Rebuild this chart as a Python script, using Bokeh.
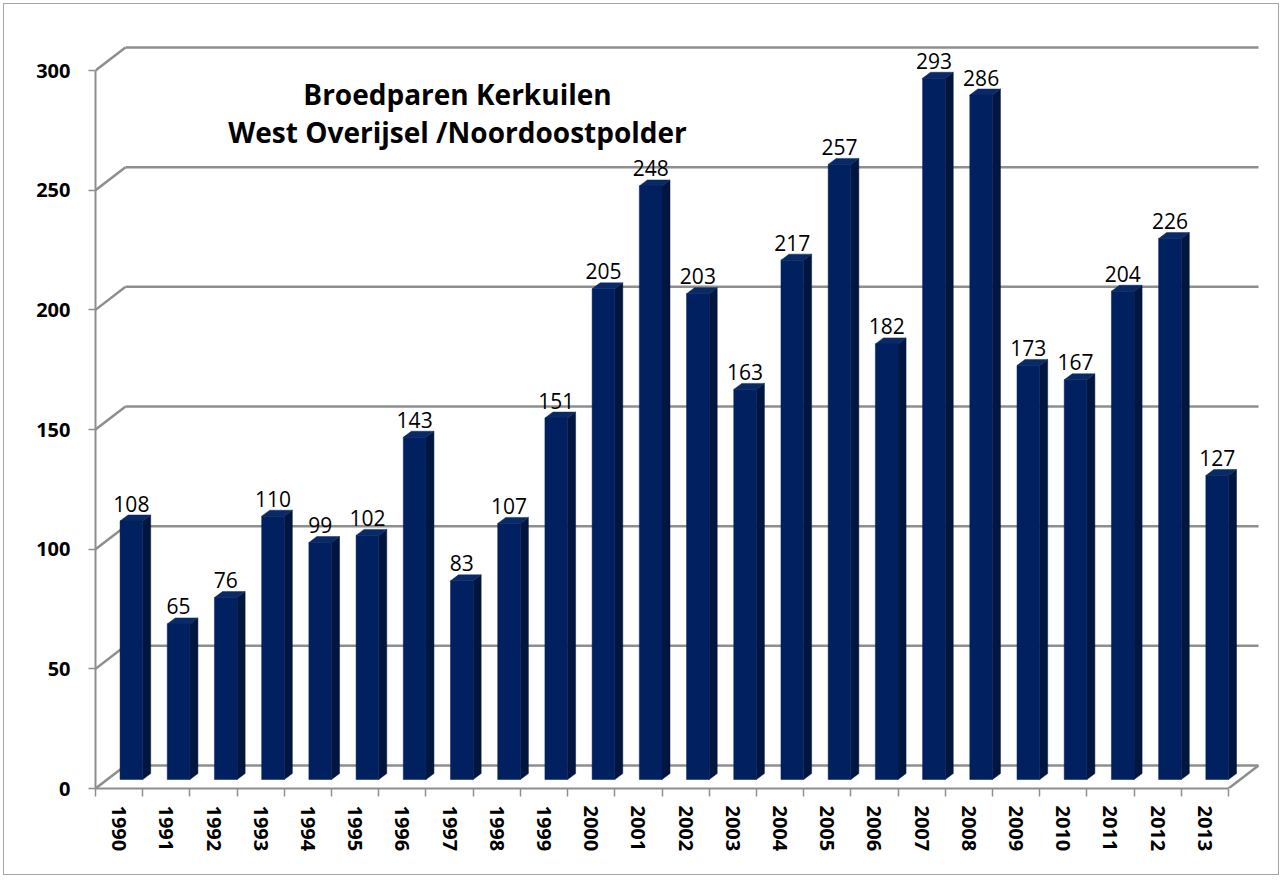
import math
from bokeh.plotting import figure
from bokeh.models import Range1d, FixedTicker, Label, ColumnDataSource
from bokeh.embed import file_html
from bokeh.resources import INLINE

# ---------------- data ----------------
years = ["1990", "1991", "1992", "1993", "1994", "1995", "1996", "1997",
         "1998", "1999", "2000", "2001", "2002", "2003", "2004", "2005",
         "2006", "2007", "2008", "2009", "2010", "2011", "2012", "2013"]
pairs = [108, 65, 76, 110, 99, 102, 143, 83, 107, 151, 205, 248,
         203, 163, 217, 257, 182, 293, 286, 173, 167, 204, 226, 127]
y_ticks = [0, 50, 100, 150, 200, 250, 300]
title_lines = ["Broedparen Kerkuilen", "West Overijsel /Noordoostpolder"]

# ---------------- geometry (pixels -> data units) ----------------
PX_X = 1133.0 / 24          # px per category on the front plane
PX_Y = 718.0 / 300          # px per unit
DEPTH_DX = 30.0 / PX_X      # back wall offset
DEPTH_DY = 23.0 / PX_Y
BAR_OFF = 0.02
BAR_W = 0.48
SIDE_DX = 8.0 / PX_X
SIDE_DY = 6.0 / PX_Y
BASE = 9.0 / PX_Y
LABEL_GAP = 17.5 / PX_Y

n = len(years)
x_lo = -0.5
x_hi = x_lo + 1167.0 / PX_X
y_hi = 758.0 / PX_Y

GRID = "#8e8e8e"
FRONT = "#002060"
SIDE = "#00163f"
TOP = "#0a2a66"
FONT = "Open Sans"

p = figure(width=1276, height=872,
           x_range=Range1d(x_lo, x_hi), y_range=Range1d(0, y_hi),
           output_backend="svg", toolbar_location=None,
           min_border_left=91, min_border_right=18,
           min_border_top=26, min_border_bottom=88)
p.outline_line_color = None
p.xgrid.visible = False
p.ygrid.visible = False
p.background_fill_color = "white"
p.border_fill_color = "white"
p.styles = {"border": "1.5px solid #a6a6a6", "margin-left": "3px", "margin-top": "3px"}

# ---------------- 3D walls / gridlines ----------------
gx0, gy0, gx1, gy1 = [], [], [], []
for t in y_ticks:
    gx0.append(x_lo); gy0.append(t)
    gx1.append(x_lo + DEPTH_DX); gy1.append(t + DEPTH_DY)
    gx0.append(x_lo + DEPTH_DX); gy0.append(t + DEPTH_DY)
    gx1.append(n - 0.5 + DEPTH_DX); gy1.append(t + DEPTH_DY)
gx0.append(n - 0.5); gy0.append(0)
gx1.append(n - 0.5 + DEPTH_DX); gy1.append(DEPTH_DY)
p.segment(x0=gx0, y0=gy0, x1=gx1, y1=gy1, line_color=GRID, line_width=2.5)

# ---------------- bars ----------------
left = [i + BAR_OFF for i in range(n)]
right = [l + BAR_W for l in left]
bottom = [BASE] * n
top = [BASE + v for v in pairs]

side_xs = [[r, r + SIDE_DX, r + SIDE_DX, r] for r in right]
side_ys = [[BASE, BASE + SIDE_DY, t + SIDE_DY, t] for t in top]
top_xs = [[l, r, r + SIDE_DX, l + SIDE_DX] for l, r in zip(left, right)]
top_ys = [[t, t, t + SIDE_DY, t + SIDE_DY] for t in top]

p.patches(xs=side_xs, ys=side_ys, fill_color=SIDE, line_color=SIDE, line_width=0.5)
p.patches(xs=top_xs, ys=top_ys, fill_color=TOP, line_color=TOP, line_width=0.5)
p.quad(left=left, right=right, bottom=bottom, top=top,
       fill_color=FRONT, line_color=FRONT, line_width=0.5)

# ---------------- data labels ----------------
lab_src = ColumnDataSource(dict(
    x=[l + BAR_W / 2 for l in left],
    y=[t + LABEL_GAP for t in top],
    text=[str(v) for v in pairs]))
p.text(x="x", y="y", text="text", source=lab_src,
       text_align="center", text_baseline="alphabetic",
       text_font={"value": FONT}, text_font_size="21px", text_color="black")

# ---------------- title ----------------
title_x = (457 - 95) / PX_X - 0.5
p.add_layout(Label(x=title_x, y=(788 - 93) / PX_Y, text=title_lines[0],
                   text_align="center", text_baseline="alphabetic",
                   text_font=FONT, text_font_style="bold",
                   text_font_size="28px", text_color="black"))
p.add_layout(Label(x=title_x, y=(788 - 131) / PX_Y, text=title_lines[1],
                   text_align="center", text_baseline="alphabetic",
                   text_font=FONT, text_font_style="bold",
                   text_font_size="28px", text_color="black"))

# ---------------- axes ----------------
ya = p.yaxis[0]
ya.ticker = FixedTicker(ticks=y_ticks, minor_ticks=[])
ya.bounds = (0, 300)
ya.axis_line_color = GRID
ya.axis_line_width = 2
ya.major_tick_in = 0
ya.major_tick_out = 7
ya.major_tick_line_color = GRID
ya.major_tick_line_width = 1.5
ya.minor_tick_out = 0
ya.minor_tick_in = 0
ya.major_label_standoff = 18
ya.major_label_text_font = FONT
ya.major_label_text_font_style = "bold"
ya.major_label_text_font_size = "20px"
ya.major_label_text_color = "black"

xa = p.xaxis[0]
xa.ticker = FixedTicker(ticks=list(range(n)), minor_ticks=[i - 0.5 for i in range(n + 1)])
xa.bounds = (-0.5, n - 0.5)
xa.axis_line_color = GRID
xa.axis_line_width = 2
xa.major_tick_in = 0
xa.major_tick_out = 0
xa.minor_tick_in = 0
xa.minor_tick_out = 8
xa.minor_tick_line_color = GRID
xa.minor_tick_line_width = 1.5
xa.major_label_overrides = {i: years[i] for i in range(n)}
xa.major_label_orientation = -math.pi / 2
xa.major_label_standoff = 9
xa.major_label_text_font = FONT
xa.major_label_text_font_style = "bold"
xa.major_label_text_font_size = "20px"
xa.major_label_text_color = "black"

open("out.html", "w").write(file_html(p, INLINE))
